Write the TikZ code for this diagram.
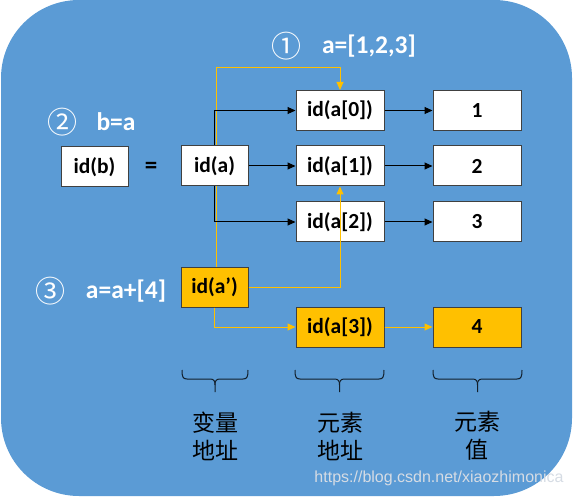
\documentclass[tikz,border=0pt]{standalone}
\usepackage{fontspec}
\setmainfont{Carlito}
\newfontfamily\cjk{Noto Sans CJK SC}
\newfontfamily\wmfont{Liberation Sans}
\usetikzlibrary{arrows.meta}
\definecolor{bgblue}{HTML}{5B9BD5}
\definecolor{gold}{HTML}{FFC000}
\definecolor{edge}{HTML}{404040}
\definecolor{wmgray}{HTML}{D6DCE4}
\pgfdeclarelayer{bg}
\pgfdeclarelayer{conn}
\pgfsetlayers{bg,conn,main}
\tikzset{
  box/.style={draw=edge, line width=1pt, fill=white, inner sep=0pt,
    minimum width=67pt, minimum height=40pt, font=\bfseries\fontsize{21.5}{24}\selectfont},
  widebox/.style={box, minimum width=88pt},
  hot/.style={fill=gold},
  blk/.style={line width=1pt, black, -{Triangle[length=8pt,width=7pt]}},
  org/.style={line width=1pt, gold, -{Triangle[length=8pt,width=7pt]}},
  orgline/.style={line width=1pt, gold},
  lbl/.style={text=white, font=\bfseries\fontsize{25.5}{28}\selectfont, inner sep=0pt},
  circ/.style={text=white, font=\cjk\fontsize{30}{32}\selectfont, inner sep=0pt},
  captext/.style={text=black, font=\cjk\fontsize{23}{28}\selectfont, align=center, inner sep=0pt},
  bracestyle/.style={line width=1pt, draw=black!80!bgblue},
}
\begin{document}
\begin{tikzpicture}[x=1pt,y=-1pt]
\useasboundingbox (0,0) rectangle (573,497);
\begin{pgfonlayer}{bg}
\fill[bgblue, rounded corners=78pt] (1,0) rectangle (572,496);
\end{pgfonlayer}

% labels
\node[circ] (c1) at (286,46) {①};
\node[lbl] (l1) at (369,46) {a=[1,2,3]};
\node[circ] (c2) at (62,122) {②};
\node[lbl] (l2) at (116,122) {b=a};
\node[circ] (c3) at (50,291) {③};
\node[lbl] (l3) at (126,291) {a=a+[4]};

% boxes
\node[box] (idb) at (94.5,167) {id(b)};
\node[font=\bfseries\fontsize{25}{28}\selectfont, inner sep=0pt] (eq) at (151,168) {=};
\node[box] (ida) at (214.5,166) {id(a)};
\node[box, hot] (idap) at (214.5,287) {id(a’)};
\node[widebox] (a0) at (340,110.5) {id(a[0])};
\node[widebox] (a1) at (340,166) {id(a[1])};
\node[widebox] (a2) at (340,222) {id(a[2])};
\node[widebox, hot] (a3) at (340,327) {id(a[3])};
\node[widebox] (v1) at (477,110.5) {1};
\node[widebox] (v2) at (477,166) {2};
\node[widebox] (v3) at (477,222) {3};
\node[widebox, hot] (v4) at (477,327) {4};

% connectors
\coordinate (topturn) at (216,68);
\begin{pgfonlayer}{conn}
\draw[orgline] ([xshift=1.5pt]idap.north) -- (topturn);
\end{pgfonlayer}
\draw[org] (topturn) -| (a0.north);
\draw[blk] (ida.north) |- (a0.west);
\draw[blk] (ida.east) -- (a1.west);
\draw[blk] (ida.south) |- (a2.west);
\draw[org] (idap.east) -| (a1.south);
\draw[org] (idap.south) |- (a3.west);
\draw[blk] (a0.east) -- (v1.west);
\draw[blk] (a1.east) -- (v2.west);
\draw[blk] (a2.east) -- (v3.west);
\draw[org] (a3.east) -- (v4.west);

% braces
\foreach \xa/\xb in {182/248, 295/384, 433/522}{
  \pgfmathsetmacro{\xc}{(\xa+\xb)/2}
  \draw[bracestyle] (\xa,370) .. controls (\xa,377) and (\xa+1,379) .. (\xa+5,379)
     -- (\xc-5,379) .. controls (\xc-1,379) and (\xc,381) .. (\xc,385) -- (\xc,392);
  \draw[bracestyle] (\xc,385) .. controls (\xc,381) and (\xc+1,379) .. (\xc+5,379)
     -- (\xb-5,379) .. controls (\xb-1,379) and (\xb,377) .. (\xb,370);
}

% captions
\node[captext] (cap1) at (215,436) {变量\\地址};
\node[captext] (cap2) at (340,436) {元素\\地址};
\node[captext] (cap3) at (477,436) {元素\\值};

% watermark
\node[text=wmgray, font=\wmfont\fontsize{16}{18}\selectfont, inner sep=0pt] (wm) at (439,478) {https://blog.csdn.net/xiaozhimonica};
\end{tikzpicture}
\end{document}
